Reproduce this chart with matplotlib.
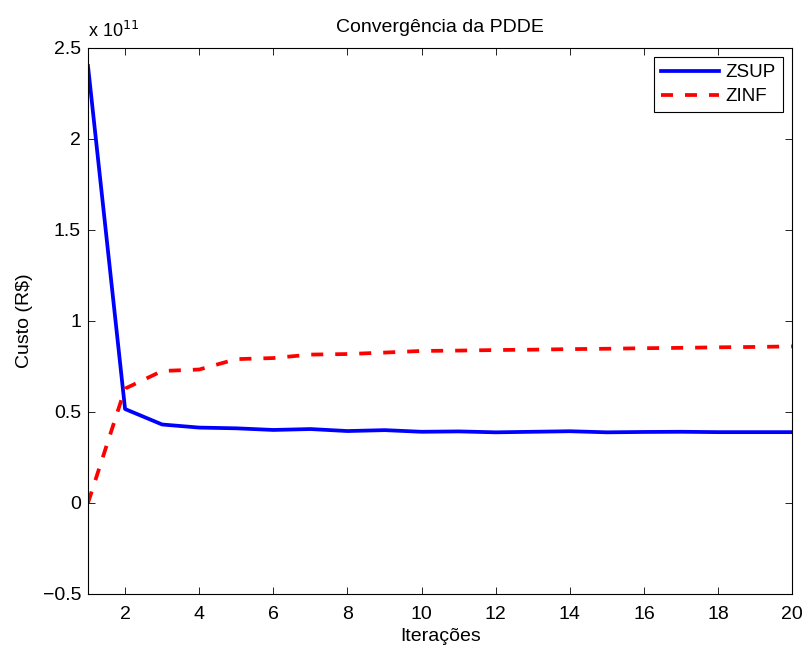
import matplotlib
matplotlib.use("Agg")
import matplotlib.pyplot as plt
from matplotlib.ticker import FuncFormatter

plt.rcParams['font.family'] = ['Liberation Sans', 'DejaVu Sans']

iteracoes = list(range(1, 21))
zsup = [2.40e11, 0.516e11, 0.431e11, 0.414e11, 0.410e11, 0.401e11, 0.406e11, 0.395e11,
        0.400e11, 0.391e11, 0.393e11, 0.388e11, 0.391e11, 0.394e11, 0.388e11, 0.390e11,
        0.391e11, 0.389e11, 0.389e11, 0.389e11]
zinf = [0.0, 0.628e11, 0.725e11, 0.733e11, 0.790e11, 0.796e11, 0.815e11, 0.818e11,
        0.826e11, 0.835e11, 0.837e11, 0.840e11, 0.842e11, 0.845e11, 0.847e11, 0.850e11,
        0.852e11, 0.855e11, 0.857e11, 0.860e11]

fig = plt.figure(figsize=(8.05, 6.46), dpi=100)
ax = fig.add_axes([0.1093, 0.0805, 0.8750, 0.8455])

ax.plot(iteracoes, zsup, color='#0000ff', lw=2.7, label='ZSUP')
ax.plot(iteracoes, zinf, color='#ff0000', lw=2.7, dashes=(3.2, 3.2), label='ZINF')

ax.set_xlim(1, 20)
ax.set_ylim(-0.5e11, 2.5e11)
ax.set_xticks([2, 4, 6, 8, 10, 12, 14, 16, 18, 20])
ax.set_yticks([-0.5e11, 0, 0.5e11, 1e11, 1.5e11, 2e11, 2.5e11])
ax.yaxis.set_major_formatter(FuncFormatter(
    lambda v, p: ('%g' % round(v / 1e11, 2)).replace('-', '\u2212')))

ax.tick_params(direction='in', top=True, right=True, labelsize=14, length=5,
               width=0.6)
ax.tick_params(axis='x', pad=8.5)
ax.tick_params(axis='y', pad=5)
for s in ax.spines.values():
    s.set_linewidth(0.8)

ax.text(0.0, 1.012, r'x 10$^{11}$', transform=ax.transAxes, fontsize=13,
        ha='left', va='bottom')

ax.set_title('Convergência da PDDE', fontsize=14, pad=11.3)
ax.set_xlabel('Iterações', fontsize=14)
ax.xaxis.set_label_coords(0.5, -0.063)
ax.set_ylabel('Custo (R$)', fontsize=14, labelpad=7)

leg = ax.legend(loc='upper right', fontsize=13.5, handlelength=3.1, fancybox=False,
                edgecolor='black', framealpha=1, borderaxespad=0.5,
                handletextpad=0.35, labelspacing=0.37, borderpad=0.37)
leg.get_frame().set_linewidth(0.8)

fig.savefig('out.png', dpi=100)
